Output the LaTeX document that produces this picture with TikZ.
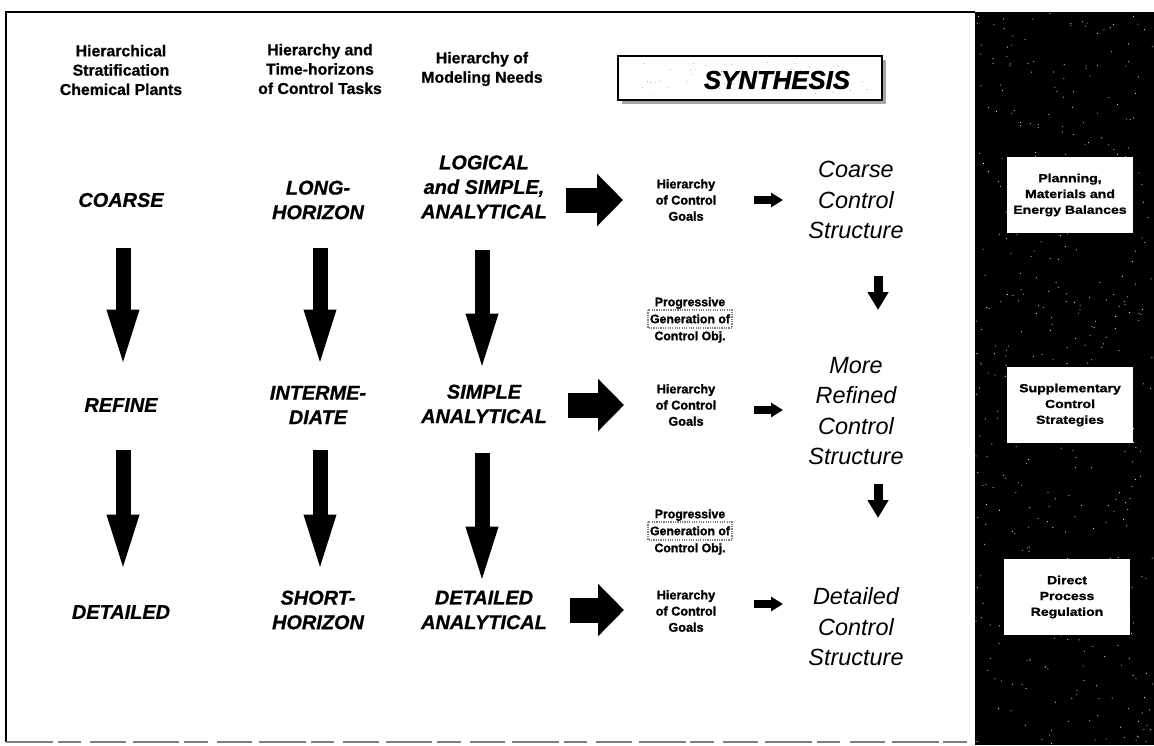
\documentclass[tikz,border=0pt]{standalone}
\usepackage{fontspec}
\setmainfont{Liberation Sans}
\usetikzlibrary{arrows.meta}
\begin{document}
\begin{tikzpicture}[x=0.03cm,y=-0.03cm,
 hdr/.style={align=center,font=\bfseries\addfontfeature{FakeBold=0.8}\fontsize{13.5}{16.5}\selectfont,inner sep=0pt},
 lvl/.style={align=center,font=\bfseries\itshape\addfontfeature{FakeBold=0.8}\fontsize{17}{21}\selectfont,inner sep=0pt},
 goal/.style={align=center,font=\bfseries\addfontfeature{FakeBold=1.5}\fontsize{10.8}{13.8}\selectfont,inner sep=0pt},
 struct/.style={align=center,font=\itshape\fontsize{20}{26}\selectfont,inner sep=0pt},
 side/.style={fill=white,align=center,font=\bfseries\addfontfeature{FakeStretch=1.2,FakeBold=1.2}\fontsize{10}{13.5}\selectfont,minimum width=3.8cm,minimum height=2.3cm,inner sep=0pt},
 bigdown/.style={line width=0.45cm,-{Triangle[length=1.9cm,width=0.81cm]}},
 bigright/.style={line width=0.75cm,-{Triangle[length=0.78cm,width=1.53cm]}},
 smallright/.style={line width=0.24cm,-{Triangle[length=0.36cm,width=0.42cm]}},
 smalldown/.style={line width=0.27cm,-{Triangle[length=0.54cm,width=0.6cm]}},
 prog/.style={align=center,font=\bfseries\addfontfeature{FakeBold=1.5}\fontsize{10.5}{14.5}\selectfont,inner sep=0pt},
]
\useasboundingbox (0,0) rectangle (1154,745);
% frame
\draw[line width=2.5pt] (6,742) -- (6,12) -- (975,12);
\draw[line width=1.7pt,gray,dash pattern=on 40pt off 4pt on 20pt off 8pt on 30pt off 6pt] (6,742) -- (975,742);
% dark panel
\fill[black] (975,12) rectangle (1154,745);
\pgfmathsetseed{11}
\foreach \i in {1,...,450}{
  \fill[white] ({975+179*rnd},{12+733*rnd}) circle (0.45pt);
}
% headers
\node[hdr] (h1) at (121,70) {Hierarchical\\Stratification\\Chemical Plants};
\node[hdr] (h2) at (320,69) {Hierarchy and\\Time-horizons\\of Control Tasks};
\node[hdr] (h3) at (482,69) {Hierarchy of\\Modeling Needs};
% synthesis box
\fill[gray!70] (622,60) rectangle (886,104);
\draw[line width=2.1pt,fill=white] (618,56) rectangle (882,100);
\pgfmathsetseed{5}
\foreach \i in {1,...,50}{
  \fill[gray] ({630+240*rnd},{62+32*rnd}) circle (0.4pt);
}
\node[font=\bfseries\itshape\addfontfeature{FakeBold=1}\fontsize{22}{24}\selectfont,inner sep=0pt] (syn) at (777,80) {SYNTHESIS};
% row 1
\node[lvl] (a1) at (121,200) {COARSE};
\node[lvl] (b1) at (318,200) {LONG-\\HORIZON};
\node[lvl] (c1) at (484,187) {LOGICAL\\and SIMPLE,\\ANALYTICAL};
\node[goal] (g1) at (686,200) {Hierarchy\\of Control\\Goals};
\node[struct] (s1) at (856,200) {Coarse\\Control\\Structure};
\node[side] (p1) at (1070,195) {Planning,\\Materials and\\Energy Balances};
% row 2
\node[lvl] (a2) at (121,405) {REFINE};
\node[lvl] (b2) at (318,405) {INTERME-\\DIATE};
\node[lvl] (c2) at (484,404) {SIMPLE\\ANALYTICAL};
\node[goal] (g2) at (686,405) {Hierarchy\\of Control\\Goals};
\node[struct] (s2) at (856,411) {More\\Refined\\Control\\Structure};
\node[side] (p2) at (1070,405) {Supplementary\\Control\\Strategies};
% row 3
\node[lvl] (a3) at (121,612) {DETAILED};
\node[lvl] (b3) at (318,610) {SHORT-\\HORIZON};
\node[lvl] (c3) at (484,610) {DETAILED\\ANALYTICAL};
\node[goal] (g3) at (686,611) {Hierarchy\\of Control\\Goals};
\node[struct] (s3) at (856,627) {Detailed\\Control\\Structure};
\node[side] (p3) at (1067,597) {Direct\\Process\\Regulation};
% progressive generation
\node[prog] (q1) at (690,320) {Progressive\\Generation of\\Control Obj.};
\draw[gray,densely dotted,line width=1pt] (648,310) rectangle (732,328);
\node[prog] (q2) at (690,532) {Progressive\\Generation of\\Control Obj.};
\draw[gray,densely dotted,line width=1pt] (648,522) rectangle (732,540);
% coordinates for arrows
\coordinate (d1t) at (123,248); \coordinate (d1b) at (123,373);
\coordinate (d2t) at (123,450); \coordinate (d2b) at (123,578);
\coordinate (d3t) at (320,248); \coordinate (d3b) at (320,373);
\coordinate (d4t) at (320,450); \coordinate (d4b) at (320,578);
\coordinate (d5t) at (482,250); \coordinate (d5b) at (482,377);
\coordinate (d6t) at (482,453); \coordinate (d6b) at (482,590);
\draw[bigdown] (d1t) -- (d1b);
\draw[bigdown] (d2t) -- (d2b);
\draw[bigdown] (d3t) -- (d3b);
\draw[bigdown] (d4t) -- (d4b);
\draw[bigdown] (d5t) -- (d5b);
\draw[bigdown] (d6t) -- (d6b);
% big right arrows
\coordinate (r1a) at (566,200); \coordinate (r1b) at (623,200);
\coordinate (r2a) at (568,405); \coordinate (r2b) at (624,405);
\coordinate (r3a) at (570,610); \coordinate (r3b) at (624,610);
\draw[bigright] (r1a) -- (r1b);
\draw[bigright] (r2a) -- (r2b);
\draw[bigright] (r3a) -- (r3b);
% small right arrows
\coordinate (t1a) at (754,200); \coordinate (t1b) at (783,200);
\coordinate (t2a) at (754,410); \coordinate (t2b) at (783,410);
\coordinate (t3a) at (754,604); \coordinate (t3b) at (783,604);
\draw[smallright] (t1a) -- (t1b);
\draw[smallright] (t2a) -- (t2b);
\draw[smallright] (t3a) -- (t3b);
% small down arrows
\coordinate (u1a) at (878,276); \coordinate (u1b) at (878,310);
\coordinate (u2a) at (878,484); \coordinate (u2b) at (878,518);
\draw[smalldown] (u1a) -- (u1b);
\draw[smalldown] (u2a) -- (u2b);
\end{tikzpicture}
\end{document}
